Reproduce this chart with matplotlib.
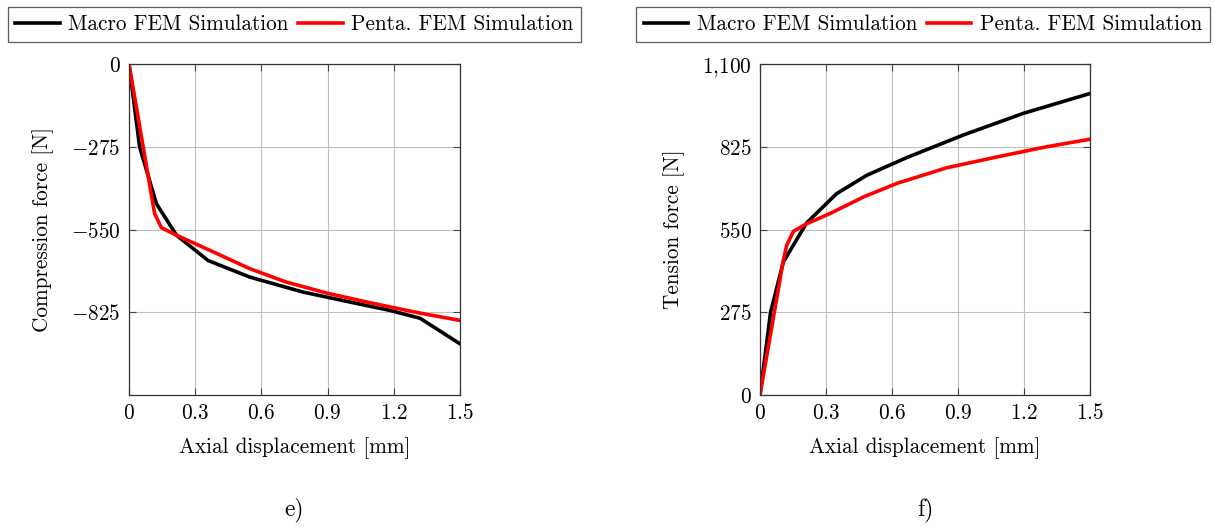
import matplotlib
matplotlib.use("Agg")
import matplotlib.pyplot as plt
from matplotlib.ticker import FixedLocator

plt.rcParams['font.family'] = 'cmr10'
plt.rcParams['mathtext.fontset'] = 'cm'
plt.rcParams['axes.unicode_minus'] = False

# Compression (e)
comp_macro_x = [0, 0.048, 0.124, 0.215, 0.358, 0.547, 0.789, 1.001, 1.183, 1.319, 1.5]
comp_macro_y = [0, -275, -464, -569, -653, -708, -758, -791, -819, -845, -930]
comp_penta_x = [0, 0.116, 0.147, 0.215, 0.366, 0.547, 0.714, 0.895, 1.077, 1.319, 1.5]
comp_penta_y = [0, -497, -544, -569, -619, -680, -725, -761, -791, -828, -852]

# Tension (f)
ten_macro_x = [0, 0.048, 0.106, 0.212, 0.348, 0.485, 0.667, 0.924, 1.197, 1.5]
ten_macro_y = [0, 275, 442, 572, 669, 730, 789, 864, 936, 1002]
ten_penta_x = [0, 0.106, 0.121, 0.152, 0.212, 0.318, 0.470, 0.621, 0.848, 1.076, 1.303, 1.5]
ten_penta_y = [0, 447, 497, 544, 569, 603, 658, 703, 755, 791, 825, 850]

x_ticks = [0, 0.3, 0.6, 0.9, 1.2, 1.5]
x_tick_labels = ['0', '0.3', '0.6', '0.9', '1.2', '1.5']
comp_ticks = [0, -275, -550, -825]
comp_tick_labels = ['$0$', '$-275$', '$-550$', '$-825$']
ten_ticks = [0, 275, 550, 825, 1100]
ten_tick_labels = ['$0$', '$275$', '$550$', '$825$', '$1{,}100$']

series_names = ['Macro FEM Simulation', 'Penta. FEM Simulation']
colors = ['black', '#ff0000']

W, H = 1214, 527
fig = plt.figure(figsize=(W/100, H/100), dpi=100)

def px_axes(x0, y0, x1, y1):
    return fig.add_axes([x0/W, 1 - y1/H, (x1-x0)/W, (y1-y0)/H])

ax1 = px_axes(129, 64, 460, 395)
ax2 = px_axes(760, 64, 1090, 395)

fs = 15.3
lw = 2.6

def style(ax):
    ax.set_xlim(0, 1.5)
    ax.xaxis.set_major_locator(FixedLocator(x_ticks))
    ax.set_xticklabels(['$%s$' % t for t in x_tick_labels], fontsize=fs)
    ax.grid(True, color='#bfbfbf', linewidth=0.8)
    ax.set_axisbelow(True)
    ax.tick_params(direction='in', top=True, right=True, length=5, width=0.8,
                   color='#444444', labelsize=fs, pad=6)
    for s in ax.spines.values():
        s.set_linewidth(0.9)
        s.set_color('#333333')
    ax.set_xlabel('Axial displacement [mm]', fontsize=fs, labelpad=10)

ax1.plot(comp_macro_x, comp_macro_y, color=colors[0], lw=lw, label=series_names[0])
ax1.plot(comp_penta_x, comp_penta_y, color=colors[1], lw=lw, label=series_names[1])
ax1.set_ylim(-1100, 0)
ax1.yaxis.set_major_locator(FixedLocator(comp_ticks))
ax1.set_yticklabels(comp_tick_labels)
style(ax1)
ax1.set_ylabel('Compression force [N]', fontsize=fs, labelpad=12)

ax2.plot(ten_macro_x, ten_macro_y, color=colors[0], lw=lw, label=series_names[0])
ax2.plot(ten_penta_x, ten_penta_y, color=colors[1], lw=lw, label=series_names[1])
ax2.set_ylim(0, 1100)
ax2.yaxis.set_major_locator(FixedLocator(ten_ticks))
ax2.set_yticklabels(ten_tick_labels)
style(ax2)
ax2.set_ylabel('Tension force [N]', fontsize=fs, labelpad=12)

def legend(ax, cx):
    lg = fig.legend(handles=ax.get_lines(), loc='center', bbox_to_anchor=(cx/W, 1 - 24.5/H),
                    ncol=2, fontsize=fs, frameon=True, fancybox=False, handlelength=2.1,
                    handletextpad=0.4, columnspacing=0.45, borderpad=0.35, borderaxespad=0)
    fr = lg.get_frame()
    fr.set_edgecolor('#333333')
    fr.set_linewidth(0.9)
    return lg

legend(ax1, 294.5)
legend(ax2, 923)

fig.text(294/W, 1 - 510/H, 'e)', ha='center', va='center', fontsize=17)
fig.text(925/W, 1 - 510/H, 'f)', ha='center', va='center', fontsize=17)

fig.savefig('out.png', dpi=100)
